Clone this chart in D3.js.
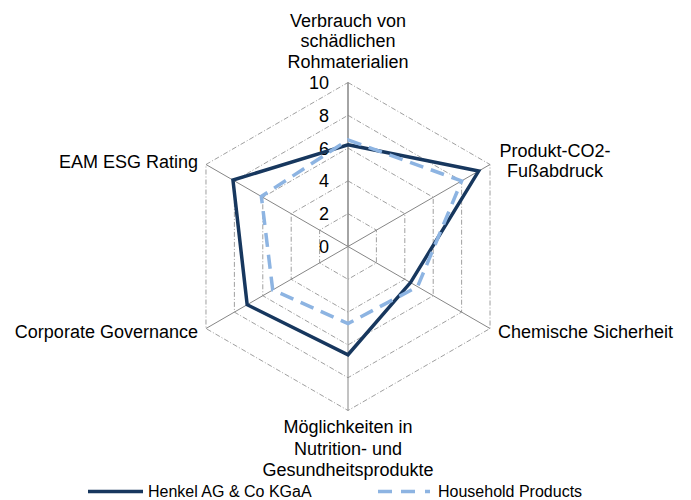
<!DOCTYPE html>
<html lang="de">
<head>
  <meta charset="UTF-8">
  <title>Radar Henkel</title>
  <script src="https://d3js.org/d3.v7.min.js"></script>
  <style>
    body { margin: 0; background: #fff; }
    text { font-family: "Liberation Sans", Arial, sans-serif; fill: #000; }
  </style>
</head>
<body>
  <script>
    // Daten
    const categories = [
      ["Verbrauch von", "schädlichen", "Rohmaterialien"],
      ["Produkt-CO2-", "Fußabdruck"],
      ["Chemische Sicherheit"],
      ["Möglichkeiten in", "Nutrition- und", "Gesundheitsprodukte"],
      ["Corporate Governance"],
      ["EAM ESG Rating"]
    ];
    const seriesNames = ["Henkel AG & Co KGaA", "Household Products"];
    const henkel = [6.2, 9.2, 4.4, 6.6, 7.1, 8.1];
    const household = [6.5, 8.0, 4.9, 4.7, 5.3, 6.1];
    const ticks = [0, 2, 4, 6, 8, 10];

    const width = 691;
    const height = 500;
    const cx = 348;
    const cy = 246.5;
    const gridColor = "#868686";
    const colors = ["#17375E", "#8DB4E2"];

    const svg = d3.select("body")
      .append("svg")
      .attr("width", width)
      .attr("height", height);

    const r = d3.scaleLinear().domain([0, 10]).range([0, 164]);
    const angle = d3.scaleLinear().domain([0, categories.length]).range([0, 2 * Math.PI]);

    // punkt auf achse i mit wert v
    const pt = (i, v) => [
      cx + r(v) * Math.sin(angle(i)),
      cy - r(v) * Math.cos(angle(i))
    ];

    // Ringe (strichpunkt)
    ticks.slice(1).forEach(t => {
      svg.append("polygon")
        .attr("points", categories.map((c, i) => pt(i, t).join(",")).join(" "))
        .attr("fill", "none")
        .attr("stroke", gridColor)
        .attr("stroke-width", 0.8)
        .attr("stroke-dasharray", "5,2,1,2");
    });

    // Achsen
    categories.forEach((c, i) => {
      const [x, y] = pt(i, 10);
      svg.append("line")
        .attr("x1", cx).attr("y1", cy)
        .attr("x2", x).attr("y2", y)
        .attr("stroke", gridColor)
        .attr("stroke-width", i === 0 ? 1.5 : 1);
    });

    // Tick-Beschriftung
    svg.selectAll("text.tick")
      .data(ticks)
      .enter()
      .append("text")
      .attr("class", "tick")
      .attr("x", cx - 19)
      .attr("y", d => cy - r(d) + 6.5)
      .attr("text-anchor", "end")
      .attr("font-size", 18)
      .text(d => d);

    // Serien
    const line = d3.line().curve(d3.curveLinearClosed);
    [henkel, household].forEach((vals, s) => {
      svg.append("path")
        .attr("d", line(vals.map((v, i) => pt(i, v))))
        .attr("fill", "none")
        .attr("stroke", colors[s])
        .attr("stroke-width", 3.5)
        .attr("stroke-linejoin", "miter")
        .attr("stroke-dasharray", s === 1 ? "14,8" : null);
    });

    // Kategorien-Beschriftung
    const labelPos = [
      { dx: 0, dy: -14.7, anchor: "middle", lh: 20.5, up: true },
      { dx: 65, dy: -7.7, anchor: "middle", lh: 20.5 },
      { dx: 8, dy: 9.3, anchor: "start", lh: 20.5 },
      { dx: 0, dy: 22.5, anchor: "middle", lh: 21.7 },
      { dx: -8, dy: 9.3, anchor: "end", lh: 20.5 },
      { dx: -8, dy: 3.3, anchor: "end", lh: 20.5 }
    ];
    categories.forEach((lines, i) => {
      const [x, y] = pt(i, 10);
      const p = labelPos[i];
      const y0 = p.up ? y + p.dy - (lines.length - 1) * p.lh : y + p.dy;
      const t = svg.append("text")
        .attr("text-anchor", p.anchor)
        .attr("font-size", 18);
      lines.forEach((l, k) => {
        t.append("tspan")
          .attr("x", x + p.dx)
          .attr("y", y0 + k * p.lh)
          .text(l);
      });
    });

    // Legende
    const legend = svg.append("g");
    const legX = [88, 378];
    const legLen = [55, 55];
    seriesNames.forEach((n, s) => {
      legend.append("line")
        .attr("x1", legX[s]).attr("x2", legX[s] + legLen[s])
        .attr("y1", 491.5).attr("y2", 491.5)
        .attr("stroke", colors[s])
        .attr("stroke-width", 3.5)
        .attr("stroke-dasharray", s === 1 ? "14,9,14,10,5" : null);
      legend.append("text")
        .attr("x", legX[s] + 60)
        .attr("y", 497)
        .attr("font-size", 16)
        .text(n);
    });
  </script>
</body>
</html>
